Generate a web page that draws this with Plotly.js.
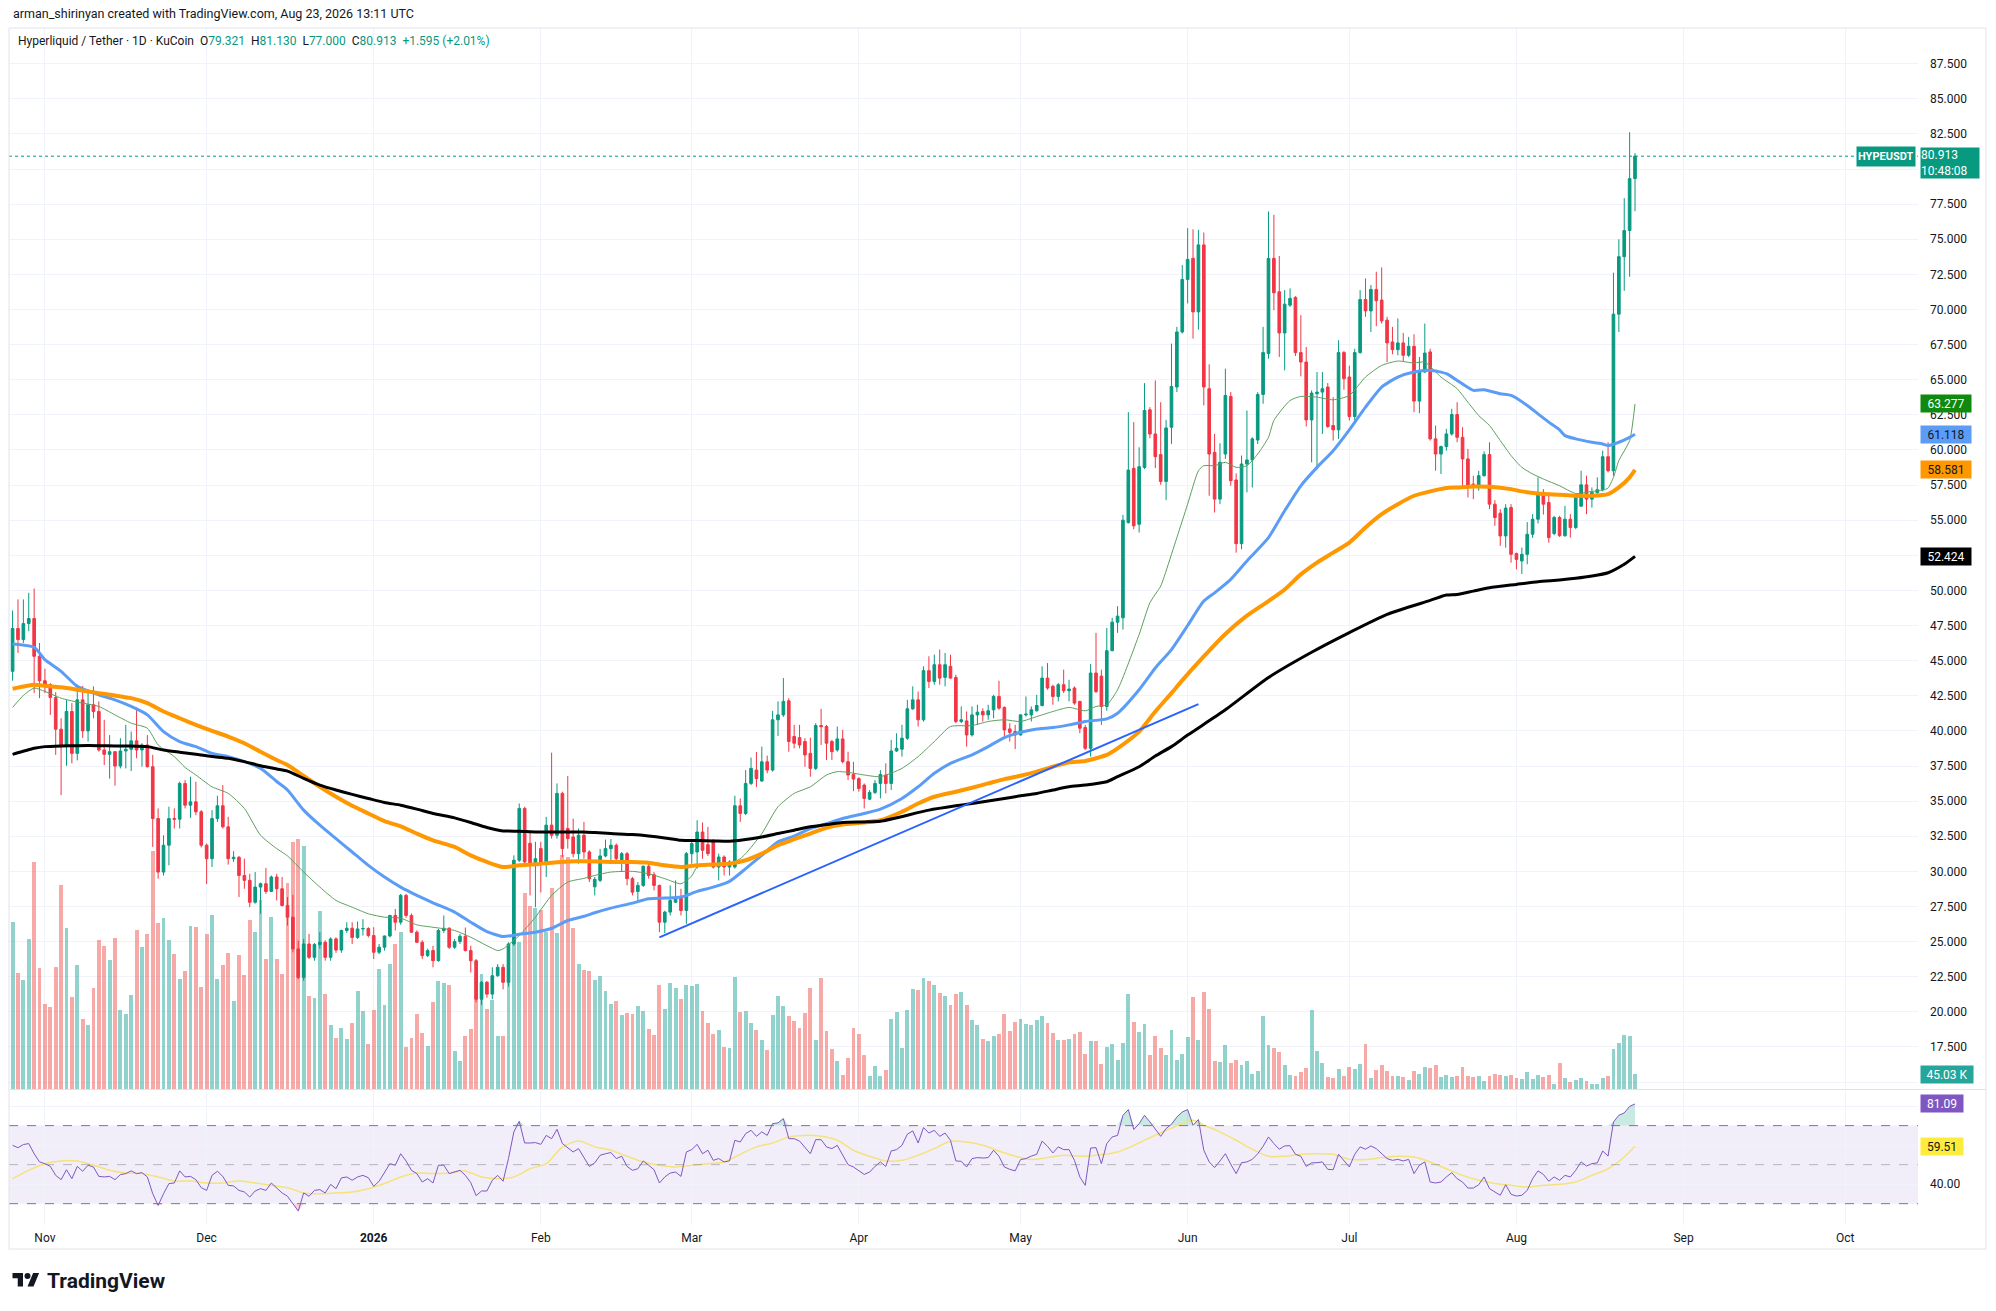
<!DOCTYPE html>
<html>
<head>
<meta charset="utf-8">
<script src="https://cdn.plot.ly/plotly-3.0.1.min.js"></script>
<style>
html,body{margin:0;padding:0;background:#fff;}
#chart{width:1996px;height:1311px;position:absolute;left:0;top:0;}
#logo{position:absolute;left:12px;top:1270px;width:28px;height:21px;}
</style>
</head>
<body>
<div id="chart"></div>
<svg id="logo" viewBox="0 0 36 28"><path fill="#131722" d="M14 22H7V11H0V4h14v18zM28 22h-8l7.5-18h8L28 22z"/><circle fill="#131722" cx="20" cy="8" r="4"/></svg>
<script>
// ---------------- DATA ----------------
const startDate = '2025-10-26';   // first daily candle (302 days to 2026-08-23)

const openP = [
 44.24,47.29,46.5,47.64,48.0,45.31,
 43.57,43.3,42.38,40.12,38.88,41.38,38.4,42.21,40.0,41.86,41.38,38.64,38.33,38.52,37.5,38.57,38.69,39.29,38.64,39.0,37.45,33.76,29.95,31.86,33.76,33.71,36.26,34.71,34.95,34.24,
 31.86,30.9,33.76,34.67,33.17,30.9,31.0,29.71,29.36,27.8,28.88,29.12,28.57,29.6,28.76,27.57,26.74,24.48,22.45,24.83,23.88,24.79,24.95,23.88,25.19,24.4,25.79,25.95,25.3,25.9,25.93,
 25.43,24.24,24.6,25.4,26.86,26.38,28.29,26.86,25.67,24.95,24.0,24.36,23.64,25.79,25.95,24.6,25.0,25.38,24.36,23.64,20.9,22.1,21.26,22.57,23.17,22.1,24.83,30.79,34.48,32.0,30.55,
 31.62,30.55,33.29,32.57,35.55,33.05,32.45,31.26,32.57,31.38,28.9,29.36,31.1,31.62,31.86,30.62,31.26,29.48,28.57,29.0,30.36,29.76,29.0,26.38,27.1,27.8,28.1,27.21,
 31.26,31.38,32.8,31.9,32.21,30.31,31.02,30.31,30.31,34.67,34.12,36.26,37.21,36.43,37.8,37.21,40.79,41.14,42.14,39.6,39.52,39.24,38.4,37.33,40.38,40.31,39.24,38.64,39.43,37.81,36.9,
 36.6,36.14,35.14,35.62,36.26,36.86,36.26,38.57,38.7,39.48,41.57,42.21,40.79,44.29,43.52,44.71,43.81,44.6,43.8,40.67,40.71,39.71,41.14,41.38,41.14,41.5,42.45,41.67,40.14,39.95,
 39.71,41.14,41.14,41.43,41.81,43.76,43.17,42.45,43.29,42.86,43.05,42.1,40.24,38.76,44.12,43.9,41.74,45.71,47.74,48.05,54.83,58.69,54.71,58.76,62.86,61.14,59.67,57.76,61.62,64.48,68.4,
 72.14,73.64,69.83,74.6,64.36,59.83,56.5,59.71,63.81,57.86,53.33,59.0,59.29,60.71,63.95,66.86,73.64,71.26,68.33,70.31,70.86,66.93,66.26,62.14,64.0,64.12,64.48,61.74,61.43,66.93,
 65.19,62.38,66.93,70.71,69.9,71.43,70.67,69.24,67.69,67.14,67.62,66.74,67.38,63.48,65.55,66.98,60.79,59.71,60.24,61.14,62.52,60.9,59.36,57.57,57.33,58.17,59.67,56.14,55.5,53.88,55.9,
 52.62,52.1,52.57,54.0,55.07,56.98,56.26,54.05,55.19,53.9,55.07,54.48,56.0,57.52,56.5,56.95,57.17,59.52,58.52,69.67,73.76,75.62,79.321
];
const highP = [
 48.57,49.36,49.36,49.83,50.14,46.26,
 44.43,43.4,42.76,40.9,42.21,41.98,43.29,43.2,42.93,43.17,42.1,40.79,39.7,38.57,39.48,40.43,39.95,41.67,39.12,39.7,38.29,34.48,32.57,34.6,34.48,36.38,36.5,36.74,36.38,34.36,
 31.98,34.36,35.38,36.14,33.88,31.43,31.1,30.9,29.83,29.95,29.2,30.24,29.7,29.83,29.6,28.17,28.33,25.07,25.19,25.55,24.9,25.67,25.1,25.3,25.3,25.85,26.38,26.38,26.43,26.6,26.02,
 26.02,24.83,25.43,26.9,27.33,28.4,28.4,27.0,25.8,25.1,24.5,24.7,25.9,26.86,26.02,25.19,25.55,26.0,24.7,23.76,22.2,22.2,23.17,23.4,23.4,24.95,31.14,34.83,34.6,32.9,32.1,
 32.1,33.88,38.45,36.26,35.67,36.79,33.76,33.05,33.52,31.5,29.6,31.6,32.26,32.3,31.98,31.38,31.38,29.6,29.24,30.43,30.55,29.95,29.05,27.2,29.0,29.36,28.76,31.38,
 32.21,33.64,33.48,33.17,32.3,31.26,31.14,30.79,35.38,35.19,37.21,38.1,38.5,38.88,38.24,41.43,42.1,43.76,42.33,40.43,40.43,39.48,39.52,40.55,41.57,40.43,39.36,40.31,40.07,38.52,37.8,
 36.7,36.26,35.79,36.5,37.2,37.69,39.36,39.83,40.43,42.21,43.17,42.8,44.6,45.31,45.43,45.79,45.55,45.43,44.0,41.74,41.38,41.74,41.86,41.6,41.86,42.57,43.57,41.74,40.55,40.43,
 41.19,42.45,41.74,42.57,44.6,44.83,43.29,43.4,44.36,43.64,43.17,42.14,40.43,44.76,46.98,44.36,47.33,48.05,48.88,55.38,62.69,61.98,60.19,64.76,63.05,64.95,63.4,62.14,67.57,68.76,73.17,
 75.79,75.71,75.67,75.48,66.1,61.14,60.48,65.79,64.12,58.33,59.6,62.81,60.9,64.12,68.76,76.98,76.74,73.81,71.38,71.5,70.95,69.6,67.33,64.24,65.55,65.55,64.76,63.76,67.81,67.05,
 66.0,67.21,71.38,72.21,71.74,72.69,73.0,69.48,68.76,69.36,68.33,68.05,68.24,66.62,69.0,67.2,61.74,60.31,61.5,62.93,63.4,61.62,60.07,58.17,58.52,59.9,60.55,56.43,55.79,56.14,56.14,
 52.69,53.05,54.86,55.43,58.05,57.21,56.98,55.31,55.31,56.02,55.43,56.9,58.52,58.17,57.33,58.05,59.95,60.55,72.62,75.0,77.93,82.62,81.13
];
const lowP = [
 43.57,45.55,46.26,47.1,42.69,42.33,
 42.69,41.14,38.29,35.43,37.52,37.69,37.9,39.5,39.24,40.9,38.52,37.57,36.6,36.1,37.33,37.33,37.14,38.05,37.45,37.4,31.74,29.48,29.7,30.43,33.05,33.05,34.48,33.81,34.0,31.7,
 29.1,30.31,33.52,33.05,30.48,30.67,28.17,28.76,27.45,27.7,26.98,28.4,28.52,27.93,27.5,26.14,24.24,22.33,22.21,23.76,23.64,24.5,23.64,23.64,24.2,24.2,25.62,24.83,25.2,25.43,25.3,
 23.76,24.1,24.36,25.3,25.79,26.2,26.7,25.62,24.9,23.76,23.9,23.17,23.57,25.62,24.48,24.48,24.83,24.3,22.8,20.67,20.5,21.0,20.9,22.5,21.6,21.8,24.7,30.67,30.43,28.29,27.45,
 28.5,29.6,32.33,32.33,31.02,31.62,31.0,30.55,30.9,29.24,28.29,29.24,31.0,30.8,30.8,29.95,29.0,28.29,27.8,28.9,29.48,28.64,25.67,25.6,26.86,27.76,26.86,26.26,
 30.55,30.2,30.9,31.1,30.2,29.36,29.71,29.71,30.2,33.52,34.0,36.14,36.0,36.38,36.98,37.1,39.64,41.0,38.52,38.76,38.76,37.45,36.74,37.21,39.0,37.93,37.93,38.52,37.69,36.5,35.71,
 35.67,34.48,35.07,35.5,35.2,35.55,35.79,38.5,38.17,39.36,41.5,40.31,40.67,43.05,43.29,43.29,43.17,43.7,40.55,40.55,38.88,39.6,40.43,40.67,40.79,40.9,41.5,39.48,39.24,38.71,
 39.67,41.02,40.67,41.38,41.74,42.93,41.86,42.1,42.69,42.1,41.86,39.83,38.64,38.17,42.69,40.43,41.43,45.67,46.98,47.21,54.76,54.36,54.12,58.64,60.83,58.71,57.52,56.43,60.43,64.12,68.29,
 70.43,67.93,68.57,63.17,56.74,55.55,56.14,59.36,57.45,52.69,52.93,56.98,57.33,60.43,63.29,66.5,69.95,66.62,65.67,70.19,66.69,65.24,61.67,59.12,58.64,61.14,61.57,60.67,60.79,64.29,
 62.1,61.86,66.86,69.48,68.4,68.81,69.0,66.26,66.81,66.74,66.33,66.62,62.69,62.62,65.48,60.67,58.52,58.29,59.95,61.02,60.55,57.45,56.62,56.5,57.1,58.1,55.79,54.6,53.17,53.05,51.98,
 51.5,51.17,51.86,53.74,54.76,55.4,53.4,53.93,53.81,53.81,53.76,54.36,55.95,55.43,55.9,56.88,57.05,58.4,58.17,68.4,71.33,72.33,77.0
];
const closeP = [
 47.29,46.5,47.64,48.0,45.31,43.57,
 43.3,42.38,40.12,38.88,41.38,38.4,42.21,40.0,41.86,41.38,38.64,38.33,38.52,37.5,38.57,38.69,39.29,38.64,39.0,37.45,33.76,29.95,31.86,33.76,33.71,36.26,34.71,34.95,34.24,31.86,
 30.9,33.76,34.67,33.17,30.9,31.0,29.71,29.36,27.8,28.88,29.12,28.57,29.6,28.76,27.57,26.74,24.48,22.45,24.83,23.88,24.79,24.95,23.88,25.19,24.4,25.79,25.95,25.3,25.9,25.93,25.43,
 24.24,24.6,25.4,26.86,26.38,28.29,26.86,25.67,24.95,24.0,24.36,23.64,25.79,25.95,24.6,25.0,25.38,24.36,23.64,20.9,22.1,21.26,22.57,23.17,22.1,24.83,30.79,34.48,30.67,30.55,30.9,
 30.55,33.29,32.57,35.55,31.62,32.33,31.26,32.57,31.38,29.48,29.43,31.1,31.62,31.86,30.9,31.26,29.48,28.52,29.0,30.36,29.71,29.0,26.38,27.1,27.93,28.1,27.21,31.26,
 31.98,32.8,31.5,31.26,30.31,31.02,30.31,30.67,34.67,34.12,36.26,37.33,36.6,37.8,37.21,40.79,41.14,42.1,39.24,39.12,39.0,38.29,37.33,40.38,40.3,39.12,38.52,39.43,37.81,36.86,36.57,
 35.9,35.19,35.62,36.26,36.9,36.26,38.57,38.76,39.48,41.57,42.21,40.79,44.29,43.52,44.71,43.76,44.71,43.76,40.67,40.79,39.71,41.14,41.33,41.14,41.43,42.45,41.62,40.07,39.9,39.71,
 41.14,41.19,41.5,41.81,43.76,43.05,42.45,43.29,42.86,42.98,41.98,40.19,38.76,44.12,42.8,41.74,45.71,47.74,48.17,55.0,58.57,54.6,58.81,62.81,61.14,59.52,57.76,61.57,64.52,68.4,72.14,
 73.57,69.83,74.6,64.48,59.71,56.5,59.12,63.88,57.81,53.33,59.0,59.29,60.79,63.95,66.93,73.64,71.19,68.33,70.38,70.79,66.93,66.26,62.14,64.05,64.12,64.36,61.67,61.43,66.93,65.07,
 62.38,66.93,70.71,69.9,71.43,70.62,69.19,67.62,67.14,67.62,66.74,67.38,63.48,65.55,66.9,60.79,59.71,60.24,61.14,62.52,60.9,59.36,57.45,57.33,58.17,59.67,56.14,55.19,53.88,55.86,52.57,
 52.21,52.57,54.0,55.07,56.98,56.14,53.76,55.19,53.9,55.07,54.48,56.74,57.52,56.5,56.98,57.17,59.52,58.52,69.67,73.76,75.62,79.318,80.913
];
// daily volume, thousands
const volumeK = [
 502,350,329,449,681,363,
 257,246,366,612,482,276,372,212,192,304,447,429,387,452,237,225,282,477,426,465,714,499,512,447,405,330,354,489,487,307,
 465,522,330,372,410,264,402,342,507,472,567,390,517,390,345,617,740,750,730,280,274,534,285,192,154,184,150,199,294,235,137,
 237,360,252,375,435,472,127,155,225,170,129,262,324,319,312,114,85,160,182,347,345,242,267,160,160,427,470,440,587,549,544,
 537,472,602,467,702,697,482,377,359,354,327,340,294,257,264,222,229,227,249,234,180,162,312,240,320,304,270,312,
 309,315,234,199,165,179,126,123,336,232,234,198,177,147,117,222,280,250,219,206,184,228,303,147,333,174,120,85,42,93,183,
 165,102,39,71,39,57,210,231,123,237,300,297,335,324,312,290,280,254,285,291,252,207,194,152,144,160,167,227,174,201,
 212,197,192,209,219,199,169,147,147,152,167,173,105,144,144,75,126,135,87,138,287,201,171,195,102,159,123,102,177,87,105,
 156,276,147,291,240,84,81,132,78,87,72,84,45,54,219,132,123,111,72,42,39,51,63,237,114,78,36,33,60,39,
 66,60,75,135,33,57,72,54,39,39,36,27,54,45,66,63,72,36,42,36,39,66,39,36,39,25,39,45,44,39,42,
 33,30,51,30,42,36,42,15,78,33,21,27,33,24,15,15,33,39,120,138,162,159,45.03
];
// RSI(14), daily
const rsiVals = [
 59.9,58.7,60.3,60.8,55.6,51.4,
 50.5,49.1,44.5,42.3,47.4,42.8,49.1,46.6,49.7,48.8,44.0,43.7,44.0,42.3,44.9,45.4,46.8,45.4,45.9,43.7,35.1,29.1,35.1,40.3,40.6,46.8,43.7,44.0,42.3,38.2,
 36.8,44.5,46.6,44.0,39.4,39.1,36.8,36.0,33.4,36.5,37.7,36.8,40.6,38.2,35.5,33.8,30.0,26.2,35.5,33.8,36.8,37.2,35.5,39.9,37.7,43.2,43.7,42.0,43.7,44.5,43.3,
 38.9,41.5,46.2,50.5,49.7,55.6,51.9,47.1,45.4,41.1,42.8,40.6,49.7,49.7,45.4,46.2,47.1,44.5,40.8,34.1,36.5,36.5,42.0,44.5,41.5,53.1,66.8,72.2,61.1,61.1,61.3,
 60.4,65.0,63.3,68.1,60.8,58.5,56.5,58.2,53.6,49.1,50.9,54.8,55.6,56.2,53.1,54.3,49.1,47.1,47.9,51.9,49.7,47.4,40.6,43.7,45.7,46.2,44.0,56.5,
 57.7,60.4,55.6,57.4,52.2,53.1,51.4,51.9,62.5,61.6,65.9,67.6,64.5,66.8,65.0,71.0,71.4,73.6,63.3,63.3,62.1,59.1,55.6,62.8,62.8,59.1,58.2,59.9,54.8,50.0,48.8,
 47.1,45.0,46.2,49.1,51.4,49.1,57.0,57.7,59.9,65.6,67.3,61.1,69.0,66.2,67.6,64.5,66.2,62.5,51.9,51.7,48.8,53.1,53.6,53.4,53.6,57.4,54.3,48.8,47.6,46.8,
 52.6,53.1,54.4,55.3,62.1,59.4,56.0,59.1,57.7,57.7,52.2,43.7,39.4,58.5,58.7,50.5,60.8,64.2,65.0,75.3,78.2,68.0,71.0,75.3,71.9,68.5,64.5,68.5,70.7,74.4,77.0,
 78.2,70.2,73.1,57.4,51.4,48.5,51.9,55.6,50.2,45.4,51.0,51.4,52.7,55.6,59.4,64.2,60.8,57.9,59.6,59.7,55.3,54.3,49.1,50.9,51.0,51.4,47.6,47.4,55.3,51.9,
 48.8,55.3,59.1,57.9,59.6,58.2,55.6,53.1,52.2,52.7,51.9,52.7,45.4,49.7,51.4,41.1,40.6,41.1,43.7,45.9,42.8,41.1,38.0,38.0,39.7,43.7,37.7,36.0,34.3,39.7,34.8,
 33.9,34.3,36.8,42.8,46.8,45.0,41.5,43.7,42.0,44.5,43.7,47.1,51.4,49.3,50.5,50.9,57.0,54.4,71.9,75.3,76.5,79.9,81.09
];
// RSI-based MA (read points)
const rsiMaDates = ['2025-10-26','2025-10-29','2025-11-01','2025-11-04','2025-11-07','2025-11-10','2025-11-13','2025-11-16','2025-11-19','2025-11-22','2025-11-25','2025-11-28','2025-12-01','2025-12-04','2025-12-07','2025-12-10','2025-12-13','2025-12-16','2025-12-19','2025-12-22','2025-12-25','2025-12-28','2025-12-31','2026-01-03','2026-01-06','2026-01-09','2026-01-12','2026-01-15','2026-01-18','2026-01-21','2026-01-24','2026-01-27','2026-01-30','2026-02-02','2026-02-05','2026-02-08','2026-02-11','2026-02-14','2026-02-17','2026-02-20','2026-02-23','2026-02-26','2026-03-01','2026-03-04','2026-03-07','2026-03-10','2026-03-13','2026-03-16','2026-03-19','2026-03-22','2026-03-25','2026-03-28','2026-03-31','2026-04-03','2026-04-06','2026-04-09','2026-04-12','2026-04-15','2026-04-18','2026-04-21','2026-04-24','2026-04-27','2026-04-30','2026-05-03','2026-05-06','2026-05-09','2026-05-12','2026-05-15','2026-05-19','2026-05-22','2026-05-25','2026-05-28','2026-05-31','2026-06-02','2026-06-04','2026-06-07','2026-06-10','2026-06-13','2026-06-16','2026-06-19','2026-06-22','2026-06-25','2026-06-28','2026-07-01','2026-07-04','2026-07-07','2026-07-10','2026-07-13','2026-07-16','2026-07-19','2026-07-22','2026-07-25','2026-07-28','2026-07-31','2026-08-03','2026-08-06','2026-08-09','2026-08-12','2026-08-15','2026-08-18','2026-08-21','2026-08-23'];
const rsiMaVals = [42.8,47.1,50.5,51.9,51.9,49.7,47.1,45.7,45.4,43.7,41.6,41.6,40.6,40.6,41.6,40.6,39.4,38.2,35.5,35.1,35.5,36.0,37.7,40.3,43.7,45.7,45.4,45.7,46.8,43.7,42.8,43.7,47.9,50.5,59.0,62.1,59.1,57.4,54.3,51.4,49.7,48.8,49.7,50.5,51.4,55.3,59.1,61.1,64.2,65.0,64.5,62.5,57.4,54.3,51.9,52.2,54.8,58.2,62.0,61.6,59.9,57.0,54.3,52.6,53.6,54.8,54.3,54.8,56.5,59.9,63.8,67.6,71.0,72.7,70.2,66.8,62.5,57.9,54.3,54.3,55.3,55.6,55.3,52.7,52.6,53.6,54.3,53.9,51.4,47.9,44.5,42.0,40.3,39.4,38.5,39.4,39.9,41.1,44.5,47.9,53.9,59.51];

// moving averages (read points)
const ma20Dates = ['2025-10-26','2025-10-28','2025-10-30','2025-11-01','2025-11-04','2025-11-07','2025-11-11','2025-11-14','2025-11-17','2025-11-20','2025-11-22','2025-11-25','2025-11-27','2025-11-29','2025-12-02','2025-12-05','2025-12-08','2025-12-11','2025-12-14','2025-12-16','2025-12-19','2025-12-22','2025-12-25','2025-12-28','2025-12-31','2026-01-03','2026-01-06','2026-01-09','2026-01-12','2026-01-16','2026-01-19','2026-01-22','2026-01-24','2026-01-25','2026-01-28','2026-01-31','2026-02-03','2026-02-06','2026-02-09','2026-02-11','2026-02-14','2026-02-18','2026-02-21','2026-02-24','2026-02-27','2026-03-01','2026-03-02','2026-03-05','2026-03-08','2026-03-10','2026-03-11','2026-03-14','2026-03-17','2026-03-20','2026-03-23','2026-03-26','2026-03-28','2026-03-30','2026-04-02','2026-04-05','2026-04-09','2026-04-12','2026-04-15','2026-04-18','2026-04-22','2026-04-25','2026-04-28','2026-05-01','2026-05-04','2026-05-07','2026-05-10','2026-05-13','2026-05-15','2026-05-17','2026-05-19','2026-05-23','2026-05-25','2026-05-27','2026-05-28','2026-05-30','2026-06-01','2026-06-03','2026-06-04','2026-06-06','2026-06-08','2026-06-10','2026-06-12','2026-06-14','2026-06-16','2026-06-17','2026-06-20','2026-06-22','2026-06-25','2026-06-28','2026-07-01','2026-07-04','2026-07-07','2026-07-10','2026-07-13','2026-07-15','2026-07-18','2026-07-21','2026-07-23','2026-07-25','2026-07-27','2026-07-29','2026-07-31','2026-08-02','2026-08-04','2026-08-06','2026-08-09','2026-08-12','2026-08-15','2026-08-17','2026-08-18','2026-08-19','2026-08-20','2026-08-22','2026-08-23'];
const ma20Vals = [41.67,42.52,43.05,42.81,42.33,42.05,41.74,41.14,40.55,40.19,39.0,38.17,37.4,36.86,36.02,35.55,34.48,32.57,31.62,31.1,29.95,28.88,27.93,27.45,26.98,26.74,26.67,26.19,26.02,25.79,25.31,24.71,24.36,24.48,25.43,26.74,28.29,29.24,29.5,29.71,29.95,30.0,29.83,29.48,29.12,29.67,30.31,30.43,30.55,30.9,31.26,32.69,34.6,35.55,36.02,36.86,37.1,37.05,36.86,36.74,37.33,38.17,39.24,40.31,40.38,40.67,40.79,40.67,41.02,41.38,41.67,41.43,41.74,41.86,42.93,46.86,49.12,50.31,51.38,53.76,56.14,58.52,58.88,58.88,59.12,58.76,58.88,59.71,60.9,62.1,63.52,63.81,63.76,63.57,63.88,65.19,66.02,66.33,66.19,66.26,65.19,64.36,63.4,62.45,61.74,60.67,59.6,58.76,58.29,57.93,57.45,56.9,57.05,57.14,57.29,58.05,59.24,60.67,63.277];

const ma50Dates = ['2025-10-26','2025-10-30','2025-11-01','2025-11-04','2025-11-07','2025-11-11','2025-11-14','2025-11-17','2025-11-20','2025-11-23','2025-11-26','2025-11-29','2025-12-02','2025-12-05','2025-12-08','2025-12-11','2025-12-14','2025-12-16','2025-12-19','2025-12-22','2025-12-25','2025-12-28','2025-12-31','2026-01-03','2026-01-06','2026-01-09','2026-01-12','2026-01-16','2026-01-19','2026-01-22','2026-01-25','2026-01-28','2026-01-31','2026-02-03','2026-02-06','2026-02-09','2026-02-11','2026-02-14','2026-02-18','2026-02-21','2026-02-24','2026-02-27','2026-03-02','2026-03-05','2026-03-08','2026-03-11','2026-03-14','2026-03-17','2026-03-20','2026-03-23','2026-03-26','2026-03-29','2026-04-02','2026-04-05','2026-04-09','2026-04-12','2026-04-15','2026-04-18','2026-04-22','2026-04-25','2026-04-28','2026-05-01','2026-05-04','2026-05-07','2026-05-10','2026-05-13','2026-05-17','2026-05-19','2026-05-23','2026-05-26','2026-05-29','2026-06-01','2026-06-04','2026-06-06','2026-06-09','2026-06-12','2026-06-16','2026-06-19','2026-06-22','2026-06-25','2026-06-28','2026-07-01','2026-07-04','2026-07-07','2026-07-10','2026-07-13','2026-07-16','2026-07-19','2026-07-21','2026-07-24','2026-07-26','2026-07-29','2026-07-31','2026-08-03','2026-08-05','2026-08-07','2026-08-09','2026-08-10','2026-08-12','2026-08-15','2026-08-17','2026-08-18','2026-08-20','2026-08-22','2026-08-23'];
const ma50Vals = [46.19,45.95,45.07,44.24,43.17,42.57,42.21,41.74,41.14,39.95,39.24,38.88,38.4,38.17,37.81,37.33,36.4,35.79,34.36,33.29,32.33,31.38,30.43,29.6,28.88,28.29,27.76,27.1,26.38,25.71,25.36,25.52,25.67,25.95,26.5,26.8,27.05,27.38,27.74,28.05,28.1,28.17,28.57,28.88,29.29,30.19,31.14,32.1,32.5,33.05,33.4,33.76,34.12,34.43,35.19,36.02,36.98,37.69,38.29,38.88,39.52,39.9,40.14,40.24,40.43,40.67,40.86,41.26,42.93,44.48,45.79,47.5,49.24,49.83,50.79,52.1,53.76,55.67,57.45,58.76,59.95,61.43,63.05,64.48,65.19,65.55,65.67,65.43,64.95,64.24,64.29,64.0,63.88,63.17,62.57,61.98,61.43,61.02,60.79,60.55,60.43,60.31,60.55,60.9,61.118];

const ma100Dates = ['2025-10-26','2025-10-30','2025-11-01','2025-11-04','2025-11-07','2025-11-11','2025-11-14','2025-11-17','2025-11-20','2025-11-23','2025-11-26','2025-11-29','2025-12-02','2025-12-05','2025-12-08','2025-12-11','2025-12-14','2025-12-16','2025-12-19','2025-12-22','2025-12-25','2025-12-28','2025-12-31','2026-01-03','2026-01-06','2026-01-09','2026-01-12','2026-01-16','2026-01-19','2026-01-22','2026-01-25','2026-01-28','2026-01-31','2026-02-03','2026-02-06','2026-02-09','2026-02-14','2026-02-18','2026-02-21','2026-02-24','2026-02-27','2026-03-02','2026-03-05','2026-03-08','2026-03-11','2026-03-14','2026-03-17','2026-03-20','2026-03-23','2026-03-26','2026-03-29','2026-04-02','2026-04-05','2026-04-09','2026-04-12','2026-04-15','2026-04-19','2026-04-22','2026-04-25','2026-04-28','2026-05-01','2026-05-04','2026-05-07','2026-05-10','2026-05-13','2026-05-17','2026-05-19','2026-05-23','2026-05-26','2026-05-29','2026-05-31','2026-06-04','2026-06-08','2026-06-12','2026-06-16','2026-06-19','2026-06-22','2026-06-25','2026-06-28','2026-07-01','2026-07-04','2026-07-07','2026-07-10','2026-07-13','2026-07-16','2026-07-19','2026-07-21','2026-07-24','2026-07-27','2026-07-31','2026-08-02','2026-08-05','2026-08-09','2026-08-12','2026-08-15','2026-08-18','2026-08-20','2026-08-22','2026-08-23'];
const ma100Vals = [43.0,43.29,43.21,43.1,42.93,42.69,42.52,42.33,41.98,41.38,40.9,40.43,40.0,39.6,39.12,38.52,37.93,37.57,36.79,36.02,35.31,34.67,34.12,33.57,33.21,32.69,32.21,31.74,31.14,30.67,30.31,30.43,30.5,30.62,30.71,30.72,30.67,30.67,30.62,30.43,30.31,30.43,30.48,30.55,30.79,31.26,31.86,32.29,32.69,33.1,33.33,33.48,33.64,34.24,34.83,35.31,35.67,35.95,36.26,36.57,36.81,37.1,37.45,37.76,37.86,38.29,38.76,39.95,41.38,42.69,43.6,45.3,46.9,48.2,49.24,50.07,51.14,51.98,52.69,53.4,54.48,55.43,56.14,56.74,57.05,57.29,57.33,57.4,57.38,57.21,57.05,56.9,56.81,56.74,56.74,56.86,57.33,58.05,58.581];

const ma200Dates = ['2025-10-26','2025-10-30','2025-11-01','2025-11-04','2025-11-07','2025-11-11','2025-11-14','2025-11-17','2025-11-20','2025-11-23','2025-11-26','2025-11-29','2025-12-02','2025-12-05','2025-12-08','2025-12-11','2025-12-14','2025-12-16','2025-12-19','2025-12-22','2025-12-25','2025-12-28','2025-12-31','2026-01-03','2026-01-06','2026-01-09','2026-01-12','2026-01-16','2026-01-19','2026-01-22','2026-01-25','2026-01-28','2026-01-31','2026-02-03','2026-02-06','2026-02-09','2026-02-11','2026-02-14','2026-02-18','2026-02-21','2026-02-24','2026-02-27','2026-03-02','2026-03-05','2026-03-08','2026-03-11','2026-03-14','2026-03-17','2026-03-20','2026-03-23','2026-03-26','2026-03-29','2026-04-02','2026-04-05','2026-04-14','2026-04-19','2026-04-22','2026-04-28','2026-05-01','2026-05-04','2026-05-07','2026-05-10','2026-05-13','2026-05-17','2026-05-19','2026-05-23','2026-05-26','2026-05-29','2026-06-01','2026-06-08','2026-06-16','2026-06-24','2026-07-01','2026-07-08','2026-07-16','2026-07-19','2026-07-21','2026-07-24','2026-07-27','2026-08-01','2026-08-05','2026-08-09','2026-08-12','2026-08-15','2026-08-18','2026-08-21','2026-08-23'];
const ma200Vals = [38.33,38.76,38.88,38.93,38.95,38.95,38.93,38.93,38.88,38.64,38.48,38.33,38.17,38.05,37.81,37.52,37.29,37.14,36.62,36.14,35.79,35.48,35.19,34.9,34.71,34.43,34.12,33.81,33.48,33.12,32.88,32.86,32.81,32.81,32.81,32.8,32.76,32.69,32.62,32.52,32.38,32.21,32.19,32.17,32.14,32.26,32.45,32.69,32.93,33.17,33.33,33.48,33.52,33.57,34.36,34.67,34.83,35.19,35.38,35.55,35.79,36.02,36.14,36.38,36.74,37.45,38.21,38.88,39.7,41.5,43.8,45.6,47.0,48.3,49.29,49.67,49.71,49.95,50.19,50.43,50.62,50.74,50.86,51.02,51.26,51.86,52.424];

// hand-drawn trend line (two anchor points)
const trendDates = ['2026-02-23','2026-06-03'];
const trendVals = [25.3, 41.9];

// axis tick labels
const monthTicks = ['2025-11-01','2025-12-01','2026-01-01','2026-02-01','2026-03-01','2026-04-01','2026-05-01','2026-06-01','2026-07-01','2026-08-01','2026-09-01','2026-10-01'];
const monthLabels = ['Nov','Dec','<b>2026</b>','Feb','Mar','Apr','May','Jun','Jul','Aug','Sep','Oct'];
const priceTicks = [15,17.5,20,22.5,25,27.5,30,32.5,35,37.5,40,42.5,45,47.5,50,52.5,55,57.5,60,62.5,65,67.5,70,72.5,75,77.5,80,82.5,85,87.5];
const priceHiddenTicks = [15,80];      // labels covered by value tags in the reference
const rsiTicks = [40,60,80];
const rsiHiddenTicks = [60,80];

// ---------------- BUILD ----------------
const N = openP.length;
[highP,lowP,closeP,volumeK,rsiVals].forEach((a,i)=>{ if(a.length!==N) throw new Error('length mismatch '+i+': '+a.length+' vs '+N); });
if (rsiMaDates.length!==rsiMaVals.length||ma20Dates.length!==ma20Vals.length||ma50Dates.length!==ma50Vals.length||ma100Dates.length!==ma100Vals.length||ma200Dates.length!==ma200Vals.length) throw new Error('ma length mismatch');

const dates = [];
{ const d0 = new Date(startDate+'T00:00:00Z');
  for (let i=0;i<N;i++){ const d=new Date(d0.getTime()+i*86400000); dates.push(d.toISOString().slice(0,10)); } }

const UP='#089981', DN='#f23645';
const volColors = closeP.map((c,i)=> c>=openP[i] ? 'rgba(38,166,154,0.5)' : 'rgba(239,83,80,0.5)');
const volume = volumeK.map(v=>v*1000);

const FONT = 'Roboto, "Liberation Sans", Arial, sans-serif';
const TXT = '#131722';
const GRID = '#f0f3fa';

const traces = [
  {type:'bar', x:dates, y:volume, xaxis:'x', yaxis:'y', marker:{color:volColors, line:{width:0}}, width:0.72*86400000, hoverinfo:'skip'},
  {type:'candlestick', x:dates, open:openP, high:highP, low:lowP, close:closeP, xaxis:'x', yaxis:'y2',
   increasing:{line:{color:UP,width:1}, fillcolor:UP}, decreasing:{line:{color:DN,width:1}, fillcolor:DN}, whiskerwidth:0, hoverinfo:'skip'},
  {type:'scatter', mode:'lines', x:ma20Dates, y:ma20Vals, xaxis:'x', yaxis:'y2', line:{color:'#5e9e5e', width:1, shape:'spline', smoothing:0.6}, hoverinfo:'skip'},
  {type:'scatter', mode:'lines', x:ma50Dates, y:ma50Vals, xaxis:'x', yaxis:'y2', line:{color:'#5b9cf6', width:3, shape:'spline', smoothing:0.6}, hoverinfo:'skip'},
  {type:'scatter', mode:'lines', x:ma100Dates, y:ma100Vals, xaxis:'x', yaxis:'y2', line:{color:'#ff9800', width:4, shape:'spline', smoothing:0.6}, hoverinfo:'skip'},
  {type:'scatter', mode:'lines', x:ma200Dates, y:ma200Vals, xaxis:'x', yaxis:'y2', line:{color:'#000000', width:3, shape:'spline', smoothing:0.6}, hoverinfo:'skip'},
  {type:'scatter', mode:'lines', x:trendDates, y:trendVals, xaxis:'x', yaxis:'y2', line:{color:'#2962ff', width:2}, hoverinfo:'skip'},
  // RSI overbought / oversold fills
  {type:'scatter', mode:'lines', x:dates, y:dates.map(()=>70), xaxis:'x', yaxis:'y3', line:{width:0, color:'rgba(0,0,0,0)'}, hoverinfo:'skip'},
  {type:'scatter', mode:'lines', x:dates, y:rsiVals.map(v=>Math.max(v,70)), xaxis:'x', yaxis:'y3', line:{width:0, color:'rgba(0,0,0,0)'}, fill:'tonexty', fillcolor:'rgba(8,153,129,0.22)', hoverinfo:'skip'},
  {type:'scatter', mode:'lines', x:dates, y:dates.map(()=>30), xaxis:'x', yaxis:'y3', line:{width:0, color:'rgba(0,0,0,0)'}, hoverinfo:'skip'},
  {type:'scatter', mode:'lines', x:dates, y:rsiVals.map(v=>Math.min(v,30)), xaxis:'x', yaxis:'y3', line:{width:0, color:'rgba(0,0,0,0)'}, fill:'tonexty', fillcolor:'rgba(242,54,69,0.22)', hoverinfo:'skip'},
  {type:'scatter', mode:'lines', x:rsiMaDates, y:rsiMaVals, xaxis:'x', yaxis:'y3', line:{color:'#f5e27a', width:1.5, shape:'spline', smoothing:0.8}, hoverinfo:'skip'},
  {type:'scatter', mode:'lines', x:dates, y:rsiVals, xaxis:'x', yaxis:'y3', line:{color:'#7e57c2', width:1}, hoverinfo:'skip'}
];

// pixel -> paper helpers (layout only)
const L=9, R=1918, T=28, B=1225;
const px = v => (v-L)/(R-L);
const py = v => (B-v)/(B-T);

const last = a => a[a.length-1];
const lastClose = last(closeP), prevClose = closeP[N-2];
const chg = lastClose - prevClose, pct = chg/prevClose*100;
const g = s => `<span style="color:${UP}">${s}</span>`;
const legendText = `Hyperliquid / Tether · 1D · KuCoin  O${g(last(openP).toFixed(3))}  H${g(last(highP).toFixed(3))}  L${g(last(lowP).toFixed(3))}  C${g(lastClose.toFixed(3))}  ${g((chg>=0?'+':'')+chg.toFixed(3)+' ('+(chg>=0?'+':'')+pct.toFixed(2)+'%)')}`;

function axisLabel(text, y, yref, bg, fg, opts){
  return Object.assign({xref:'paper', x:1, xanchor:'left', xshift:2, yref:yref, y:y, yanchor:'middle',
    text:text, showarrow:false, bgcolor:bg, font:{family:FONT, size:12, color:fg}, width:50, height:17, align:'center', borderpad:0}, opts||{});
}

const annotations = [
  {xref:'paper', yref:'paper', x:px(11), y:py(14), xanchor:'left', yanchor:'middle', showarrow:false,
   text:'arman_shirinyan created with TradingView.com, Aug 23, 2026 13:11 UTC', font:{family:FONT, size:12.5, color:TXT}},
  {xref:'paper', yref:'paper', x:px(16), y:py(41), xanchor:'left', yanchor:'middle', showarrow:false,
   text:legendText, font:{family:FONT, size:12, color:TXT}},
  axisLabel(last(ma20Vals).toFixed(3), last(ma20Vals), 'y2', '#0f8a0f', '#ffffff'),
  axisLabel(last(ma50Vals).toFixed(3), last(ma50Vals), 'y2', '#5b9cf6', TXT),
  axisLabel(last(ma100Vals).toFixed(3), last(ma100Vals), 'y2', '#ff9800', TXT),
  axisLabel(last(ma200Vals).toFixed(3), last(ma200Vals), 'y2', '#000000', '#ffffff'),
  axisLabel(lastClose.toFixed(3)+'<br>10:48:08', lastClose, 'y2', UP, '#ffffff', {yanchor:'top', yshift:9, height:30, width:58, align:'left'}),
  {xref:'paper', x:px(1916), xanchor:'right', yref:'y2', y:lastClose, yanchor:'middle', showarrow:false,
   text:'<b>HYPEUSDT</b>', bgcolor:UP, font:{family:FONT, size:11, color:'#ffffff'}, height:17, borderpad:1},
  axisLabel(last(volumeK).toFixed(2)+' K', last(volume), 'y', '#26a69a', '#ffffff', {width:52}),
  axisLabel(last(rsiVals).toFixed(2), last(rsiVals), 'y3', '#7e57c2', '#ffffff', {width:42}),
  axisLabel(last(rsiMaVals).toFixed(2), last(rsiMaVals), 'y3', '#ffeb3b', TXT, {width:42}),
  {xref:'paper', yref:'paper', x:px(45), y:py(1281), xanchor:'left', yanchor:'middle', showarrow:false,
   text:'<b>TradingView</b>', font:{family:FONT, size:21, color:TXT}}
];

const shapes = [
  {type:'rect', xref:'paper', x0:0, x1:1, yref:'y3', y0:30, y1:70, fillcolor:'rgba(126,87,194,0.1)', line:{width:0}, layer:'below'},
  {type:'line', xref:'paper', x0:0, x1:1, yref:'y3', y0:70, y1:70, line:{color:'#787b86', width:1, dash:'dash'}},
  {type:'line', xref:'paper', x0:0, x1:1, yref:'y3', y0:50, y1:50, line:{color:'rgba(120,123,134,0.5)', width:1, dash:'dash'}},
  {type:'line', xref:'paper', x0:0, x1:1, yref:'y3', y0:30, y1:30, line:{color:'#787b86', width:1, dash:'dash'}},
  {type:'line', xref:'paper', x0:0, x1:1, yref:'y2', y0:lastClose, y1:lastClose, line:{color:UP, width:1, dash:'dot'}},
  {type:'line', xref:'paper', x0:0, x1:px(1986), yref:'paper', y0:py(1089.5), y1:py(1089.5), line:{color:'#e0e3eb', width:1}},
  {type:'rect', xref:'paper', x0:0, x1:px(1986), yref:'paper', y0:py(1249), y1:1, line:{color:'#e0e3eb', width:1}, fillcolor:'rgba(0,0,0,0)'}
];

const layout = {
  width:1996, height:1311,
  margin:{l:L, r:1996-R, t:T, b:1311-B, pad:0},
  paper_bgcolor:'#ffffff', plot_bgcolor:'#ffffff',
  showlegend:false, dragmode:false, bargap:0,
  font:{family:FONT, color:TXT, size:12},
  xaxis:{type:'date', anchor:'y3', range:['2025-10-25 08:00','2026-10-14 12:00'], tickmode:'array', tickvals:monthTicks, ticktext:monthLabels,
         showgrid:true, gridcolor:GRID, gridwidth:1, zeroline:false, showline:false, ticks:'', tickfont:{size:12, color:TXT, family:FONT},
         rangeslider:{visible:false}, fixedrange:true, ticklabelstandoff:4},
  yaxis:{domain:[py(1089.5),1], range:[0,3177000], visible:false, showgrid:false, zeroline:false, fixedrange:true},
  yaxis2:{overlaying:'y', side:'right', anchor:'x', range:[14.47,90.04], tickmode:'array', tickvals:priceTicks,
          ticktext:priceTicks.map(v=>priceHiddenTicks.includes(v)?'':v.toFixed(3)),
          showgrid:true, gridcolor:GRID, zeroline:false, showline:false, ticks:'', tickfont:{size:12, color:TXT, family:FONT}, ticklabelstandoff:11, fixedrange:true},
  yaxis3:{domain:[0, py(1090.5)], side:'right', anchor:'x', range:[19.07,88.0], tickmode:'array', tickvals:rsiTicks,
          ticktext:rsiTicks.map(v=>rsiHiddenTicks.includes(v)?'':v.toFixed(2)),
          showgrid:true, gridcolor:GRID, zeroline:false, showline:false, ticks:'', tickfont:{size:12, color:TXT, family:FONT}, ticklabelstandoff:11, fixedrange:true},
  shapes:shapes, annotations:annotations
};

Plotly.newPlot('chart', traces, layout, {staticPlot:true, displayModeBar:false});
</script>
</body>
</html>
